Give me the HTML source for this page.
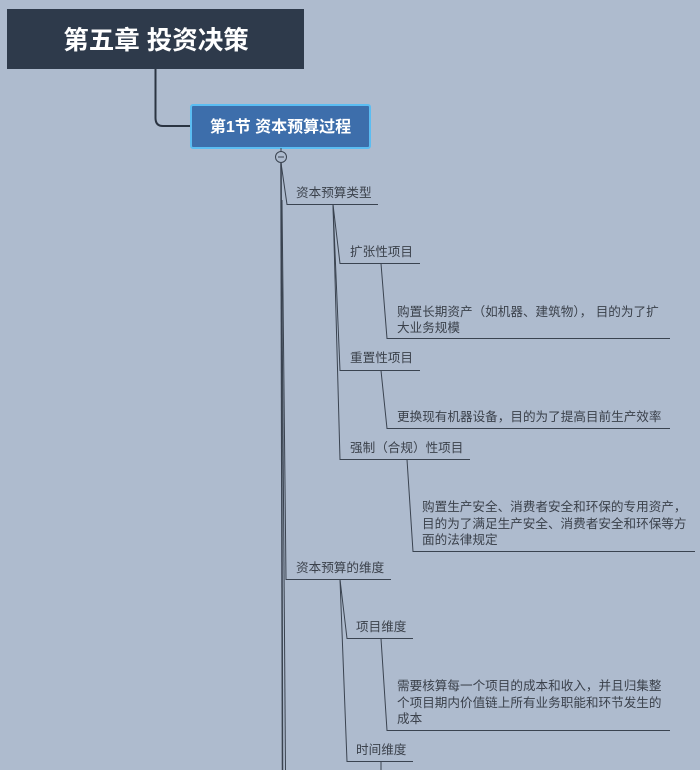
<!DOCTYPE html>
<html><head><meta charset="utf-8"><style>
body{margin:0;width:700px;height:770px;overflow:hidden;background:#aebbce;font-family:"Liberation Sans","Noto Sans CJK SC",sans-serif;}
svg{position:absolute;left:0;top:0}
text{font-family:"Liberation Sans","Noto Sans CJK SC",sans-serif;}
.t{font-size:12.6px;fill:#3b414b}
</style></head><body>
<svg width="700" height="770" viewBox="0 0 700 770">
<rect x="7" y="9" width="297" height="60" fill="#2e3a4b"/>
<text x="156" y="49" text-anchor="middle" font-size="25.5" font-weight="bold" fill="#fff">第五章 投资决策</text>
<path d="M155.5 69 V118 Q155.5 126 163 126 H191" fill="none" stroke="#2b3442" stroke-width="2"/>
<rect x="191" y="105" width="179" height="43" rx="2" fill="#3d6eab" stroke="#5bbdf2" stroke-width="2"/>
<text x="280.5" y="132" text-anchor="middle" font-size="16" font-weight="bold" fill="#fff">第1节 资本预算过程</text>
<g stroke="#3a4350" stroke-width="1" fill="none">
<line x1="281" y1="148" x2="281" y2="152"/>
<line x1="281" y1="163" x2="282.5" y2="770" stroke-width="1.5"/>
<line x1="281" y1="163" x2="285.5" y2="770"/>
<polyline points="281,163 287,204.5 378,204.5"/>
<polyline points="282,200 286,579.5 391,579.5"/>
<polyline points="333,204.5 340,263.5 420,263.5"/>
<polyline points="333,204.5 340,370.5 420,370.5"/>
<polyline points="333,204.5 340,459.5 470,459.5"/>
<polyline points="381,263.5 387,338.5 670,338.5"/>
<polyline points="381,370.5 387,428.5 670,428.5"/>
<polyline points="407,459.5 413,551.5 695,551.5"/>
<polyline points="340,579.5 347,638.5 413,638.5"/>
<polyline points="340,579.5 347,761.5 413,761.5"/>
<polyline points="381,638.5 387,730.5 670,730.5"/>
<line x1="381" y1="761" x2="381" y2="770"/>
</g>
<circle cx="281" cy="157" r="5.5" fill="#aebbce" stroke="#3a4350" stroke-width="1"/>
<line x1="278" y1="157" x2="284" y2="157" stroke="#3a4350" stroke-width="1"/>
<g class="t">
<text x="296" y="197" class="t">资本预算类型</text>
<text x="350" y="256" class="t">扩张性项目</text>
<text x="397" y="316" class="t">购置长期资产（如机器、建筑物）， 目的为了扩</text>
<text x="397" y="332" class="t">大业务规模</text>
<text x="350" y="362" class="t">重置性项目</text>
<text x="397" y="421" class="t">更换现有机器设备，目的为了提高目前生产效率</text>
<text x="350" y="452" class="t">强制（合规）性项目</text>
<text x="422" y="511" class="t">购置生产安全、消费者安全和环保的专用资产，</text>
<text x="422" y="528" class="t">目的为了满足生产安全、消费者安全和环保等方</text>
<text x="422" y="544" class="t">面的法律规定</text>
<text x="296" y="572" class="t">资本预算的维度</text>
<text x="356" y="631" class="t">项目维度</text>
<text x="397" y="690" class="t">需要核算每一个项目的成本和收入，并且归集整</text>
<text x="397" y="707" class="t">个项目期内价值链上所有业务职能和环节发生的</text>
<text x="397" y="723" class="t">成本</text>
<text x="356" y="754" class="t">时间维度</text>
</g>
</svg>
</body></html>
